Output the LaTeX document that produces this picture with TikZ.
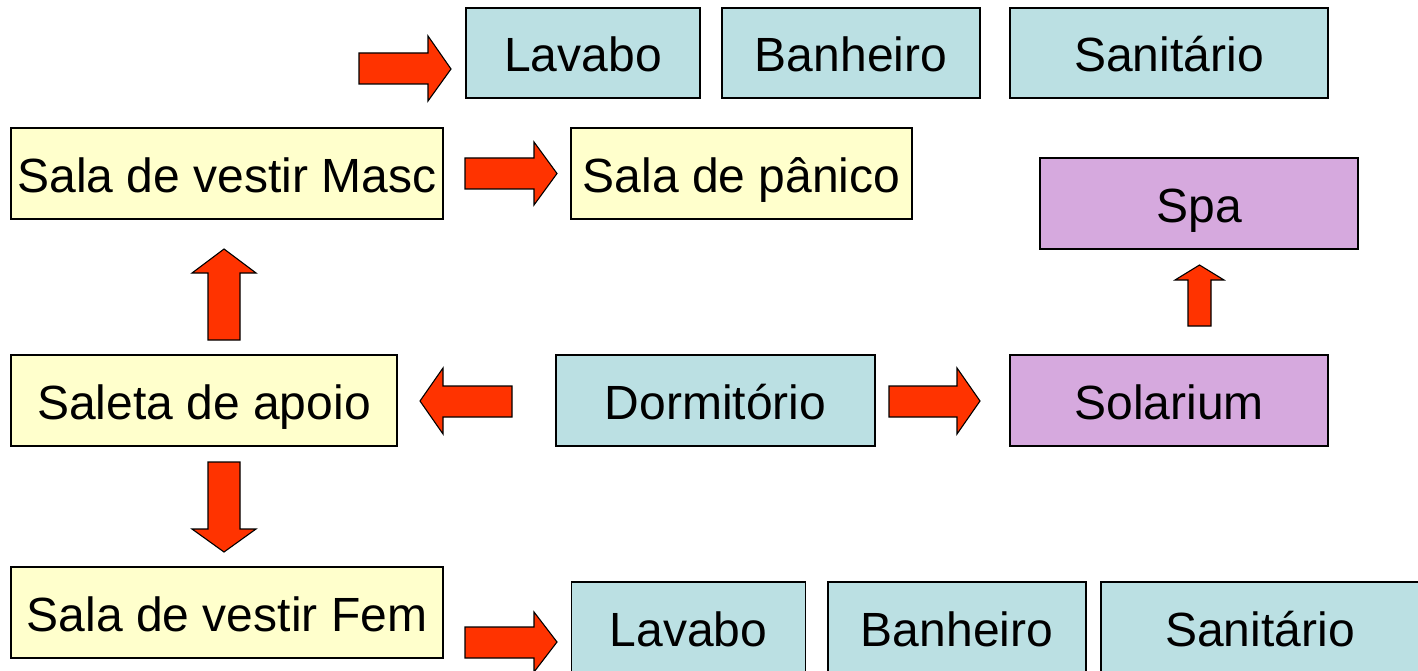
\documentclass[tikz,border=0pt]{standalone}
\usepackage{fontspec}
\setmainfont{Liberation Sans}
\definecolor{boxblue}{RGB}{187,224,227}
\definecolor{boxyellow}{RGB}{255,255,204}
\definecolor{boxpurple}{RGB}{214,169,222}
\definecolor{arrowred}{RGB}{255,51,0}
\tikzset{
  room/.style={draw=black, line width=1.3pt, inner sep=0pt, text height=38pt, text depth=0pt,
    font=\fontsize{48}{56}\selectfont},
  blue room/.style={room, fill=boxblue},
  yellow room/.style={room, fill=boxyellow},
  purple room/.style={room, fill=boxpurple},
  blockarrow/.style={fill=arrowred, draw=black, line width=1.1pt, line join=miter},
}
\begin{document}
\begin{tikzpicture}[x=1pt,y=-1pt]
\useasboundingbox (0,0) rectangle (1418,671);
% top row
\node[blue room, minimum width=234pt, minimum height=90pt] (lav1) at (583,53) {Lavabo};
\node[blue room, minimum width=258pt, minimum height=90pt] (ban1) at (851,53) {Banheiro};
\node[blue room, minimum width=318pt, minimum height=90pt] (san1) at (1169,53) {Sanitário};
% second row
\node[yellow room, minimum width=432pt, minimum height=91pt] (masc) at (227,173.5) {Sala de vestir Masc};
\node[yellow room, minimum width=341pt, minimum height=91pt] (panico) at (741.5,173.5) {Sala de pânico};
\node[purple room, minimum width=318pt, minimum height=91pt] (spa) at (1199,203.5) {Spa};
% middle row
\node[yellow room, minimum width=386pt, minimum height=91pt] (saleta) at (204,400.5) {Saleta de apoio};
\node[blue room, minimum width=319pt, minimum height=91pt] (dorm) at (715.5,400.5) {Dormitório};
\node[purple room, minimum width=318pt, minimum height=91pt] (sol) at (1169,400.5) {Solarium};
% bottom row
\node[yellow room, minimum width=432pt, minimum height=91pt] (fem) at (227,612.5) {Sala de vestir Fem};
\node[blue room, minimum width=234pt, minimum height=90pt] (lav2) at (688.5,627) {Lavabo};
\node[blue room, minimum width=258pt, minimum height=90pt] (ban2) at (957,627) {Banheiro};
\node[blue room, minimum width=318pt, minimum height=90pt] (san2) at (1260,627) {Sanitário};
% block arrows
% top: towards Lavabo
\draw[blockarrow] (359,53)--(428,53)--(428,36)--(451,69)--(428,101)--(428,84)--(359,84)--cycle;
% Masc -> panico
\draw[blockarrow] (465,158)--(534,158)--(534,142)--(557,173.5)--(534,205)--(534,189)--(465,189)--cycle;
% Saleta -> Masc (up)
\draw[blockarrow] (208,340)--(208,273)--(192,273)--(224,249)--(256,273)--(240,273)--(240,340)--cycle;
% Dormitorio -> Saleta (left)
\draw[blockarrow] (512,386)--(443,386)--(443,368)--(420,401)--(443,434)--(443,417)--(512,417)--cycle;
% Dormitorio -> Solarium (right)
\draw[blockarrow] (889,386)--(957,386)--(957,368)--(980,401)--(957,434)--(957,417)--(889,417)--cycle;
% Solarium -> Spa (up)
\draw[blockarrow] (1188,326)--(1188,280)--(1175,280)--(1199.5,265)--(1224,280)--(1211,280)--(1211,326)--cycle;
% Saleta -> Fem (down)
\draw[blockarrow] (208,462)--(208,529)--(192,529)--(224,552)--(256,529)--(240,529)--(240,462)--cycle;
% Fem -> Lavabo (right)
\draw[blockarrow] (465,627)--(534,627)--(534,612)--(557,642)--(534,672)--(534,658)--(465,658)--cycle;
\end{tikzpicture}
\end{document}
